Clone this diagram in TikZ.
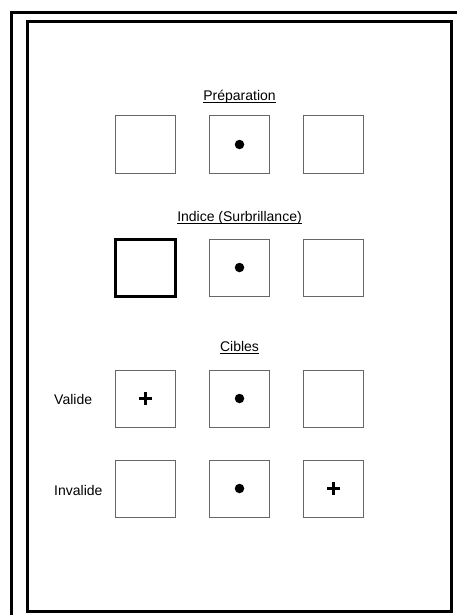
\documentclass[tikz,border=0pt]{standalone}
\usepackage{fontspec}
\setmainfont{Liberation Sans}

\begin{document}
\begin{tikzpicture}[x=1pt, y=-1pt,
		case/.style={draw=black!60, line width=1pt, minimum width=60pt, minimum height=57pt, inner sep=0pt},
		indice/.style={case, draw=black, line width=3pt},
		titre/.style={anchor=base, inner sep=0pt, font=\fontsize{14}{16}\selectfont},
		souligne/.style={line width=0.9pt},
		etiq/.style={anchor=base west, inner sep=0pt, font=\fontsize{14}{16}\selectfont},
		point/.style={circle, fill=black, minimum size=9.5pt, inner sep=0pt},
		croix/.style={line width=2.5pt}]
			\useasboundingbox (0,0) rectangle (457,615);
			% cadres
			\draw[line width=3pt] (11.5,615) -- (11.5,12.5) -- (457,12.5);
			\draw[line width=3pt] (27.5,21.5) rectangle (451.5,611.5);
			% preparation
			\node[titre] (tprep) at (239.5,100.5) {Préparation};
			\draw[souligne] ([yshift=-2pt]tprep.base west) -- ([yshift=-2pt]tprep.base east);
			\node[case] (prep1) at (145.5,144.5) {};
			\node[case] (prep2) at (239.5,144.5) {};
			\node[case] (prep3) at (333.5,144.5) {};
			\node[point] (fprep) at (prep2) {};
			% indice
			\node[titre] (tind) at (239.5,221) {Indice (Surbrillance)};
			\draw[souligne] ([yshift=-2pt]tind.base west) -- ([yshift=-2pt]tind.base east);
			\node[indice] (ind1) at (145.5,267.5) {};
			\node[case] (ind2) at (239.5,267.5) {};
			\node[case] (ind3) at (333.5,267.5) {};
			\node[point] (find) at (ind2) {};
			% cibles
			\node[titre] (tcib) at (239.5,351.5) {Cibles};
			\draw[souligne] ([yshift=-2pt]tcib.base west) -- ([yshift=-2pt]tcib.base east);
			\node[etiq] (lval) at (54,404) {Valide};
			\node[case] (val1) at (145.5,398.5) {};
			\node[case] (val2) at (239.5,398.5) {};
			\node[case] (val3) at (333.5,398.5) {};
			\node[point] (fval) at (val2) {};
			\draw[croix] ([xshift=-6.5pt]val1.center) -- ([xshift=6.5pt]val1.center);
			\draw[croix] ([yshift=-6.5pt]val1.center) -- ([yshift=6.5pt]val1.center);
			\node[etiq] (linv) at (54,495.5) {Invalide};
			\node[case] (inv1) at (145.5,488.5) {};
			\node[case] (inv2) at (239.5,488.5) {};
			\node[case] (inv3) at (333.5,488.5) {};
			\node[point] (finv) at (inv2) {};
			\draw[croix] ([xshift=-6.5pt]inv3.center) -- ([xshift=6.5pt]inv3.center);
			\draw[croix] ([yshift=-6.5pt]inv3.center) -- ([yshift=6.5pt]inv3.center);
		\end{tikzpicture}
\end{document}
